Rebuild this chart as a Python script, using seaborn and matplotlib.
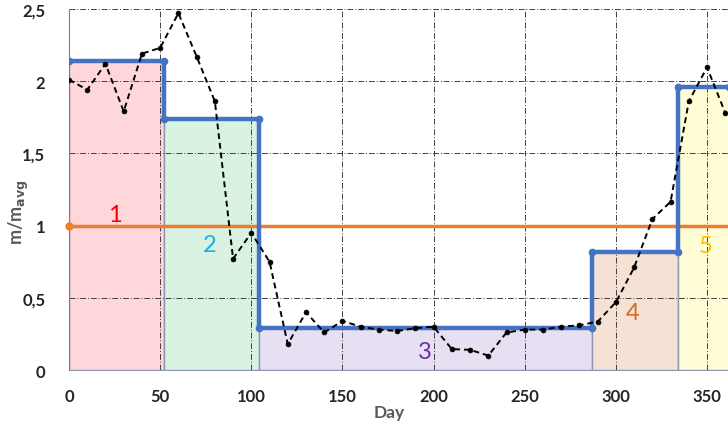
import numpy as np
import pandas as pd
import matplotlib
matplotlib.use('Agg')
import matplotlib.pyplot as plt
import seaborn as sns

# measured ratio, every 10 days
days = [0, 10, 20, 30, 40, 50, 60, 70, 80, 90, 100, 110, 120, 130, 140, 150, 160, 170,
        180, 190, 200, 210, 220, 230, 240, 250, 260, 270, 280, 290, 300, 310, 320, 330,
        340, 350, 360]
ratio = [2.01, 1.94, 2.12, 1.79, 2.19, 2.23, 2.47, 2.17, 1.86, 0.77, 0.95, 0.75, 0.18,
         0.40, 0.26, 0.34, 0.30, 0.28, 0.27, 0.29, 0.30, 0.145, 0.14, 0.10, 0.26, 0.28,
         0.28, 0.30, 0.31, 0.335, 0.47, 0.71, 1.045, 1.165, 1.86, 2.095, 1.78]

# period boundaries and mean level per period
edges = [0, 52, 104, 287, 334, 362]
levels = [2.14, 1.74, 0.29, 0.82, 1.96]
period_labels = ['1', '2', '3', '4', '5']
fill_colors = ['#ffd6da', '#d9f2e2', '#e7dff2', '#f6e2d4', '#fefdd6']
label_colors = ['#ff0000', '#1eaee6', '#7030a0', '#d46a1e', '#ffc000']
label_pos = [(25, 1.08), (77, 0.87), (195, 0.13), (309, 0.40), (349, 0.86)]

avg_level = 1.0

sns.set_style('white')
plt.rcParams['font.family'] = ['Lato', 'DejaVu Sans']

fig = plt.figure(figsize=(7.28, 4.27), dpi=100)
ax = fig.add_axes([0.0948, 0.131, 0.9052, 0.8459])

# shaded periods
for i in range(len(levels)):
    ax.fill_between([edges[i], edges[i + 1]], 0, levels[i], color=fill_colors[i],
                    edgecolor='#8e93b3', linewidth=1.0, zorder=1)

# grid
for gx in range(0, 351, 50):
    ax.axvline(gx, color='#404040', lw=0.7, ls=(0, (6, 2, 1, 2)), zorder=2)
for gy in np.arange(0.5, 2.51, 0.5):
    ax.axhline(gy, color='#404040', lw=0.7, ls=(0, (6, 2, 1, 2)), zorder=2)

# average line
avg_df = pd.DataFrame({'x': [0, edges[-1]], 'y': [avg_level, avg_level]})
sns.lineplot(data=avg_df, x='x', y='y', ax=ax, color='#ed7d31', lw=2.5, zorder=3,
             estimator=None)
ax.plot([0], [avg_level], 'o', color='#ed7d31', ms=5, zorder=3, clip_on=False)

# step (period means)
step_x = [edges[0]] + list(np.repeat(edges[1:-1], 2)) + [edges[-1]]
step_y = list(np.repeat(levels, 2))
step_df = pd.DataFrame({'x': step_x, 'y': step_y})
sns.lineplot(data=step_df, x='x', y='y', ax=ax, sort=False, estimator=None,
             color='#4472c4', lw=3.2, marker='o', ms=5.5, markeredgewidth=0, zorder=4)

# measured series
meas_df = pd.DataFrame({'day': days, 'ratio': ratio})
sns.lineplot(data=meas_df, x='day', y='ratio', ax=ax, color='black', lw=1.4,
             ls=(0, (3, 2)), marker='o', ms=3.5, markeredgewidth=0.5,
             markeredgecolor='black', zorder=5, estimator=None)

for lab, col, (lx, ly) in zip(period_labels, label_colors, label_pos):
    ax.text(lx, ly, lab, color=col, fontsize=17, ha='center', va='center', zorder=6)

ax.set_xlim(0, 361.5)
ax.set_ylim(0, 2.5)
ax.set_xticks(range(0, 351, 50))
ax.set_xticklabels([str(v) for v in range(0, 351, 50)], fontsize=12, fontweight='bold')
ax.set_yticks([0, 0.5, 1, 1.5, 2, 2.5])
ax.set_yticklabels(['0', '0,5', '1', '1,5', '2', '2,5'], fontsize=12, fontweight='bold')
ax.tick_params(axis='x', length=0, pad=13)
ax.tick_params(axis='y', length=0, pad=17)
ax.set_xlabel('Day', fontsize=12.5, fontweight='bold', color='#595959')
ax.set_ylabel(r'm/m$_{\mathbf{avg}}$', fontsize=13, fontweight='bold', color='#595959')
ax.xaxis.set_label_coords(0.486, -0.095)
ax.yaxis.set_label_coords(-0.058, 0.44)

for s in ['top', 'right', 'bottom']:
    ax.spines[s].set_visible(False)
ax.spines['left'].set_color('#808080')
ax.spines['left'].set_linewidth(0.8)

fig.savefig('out.png', dpi=100)
